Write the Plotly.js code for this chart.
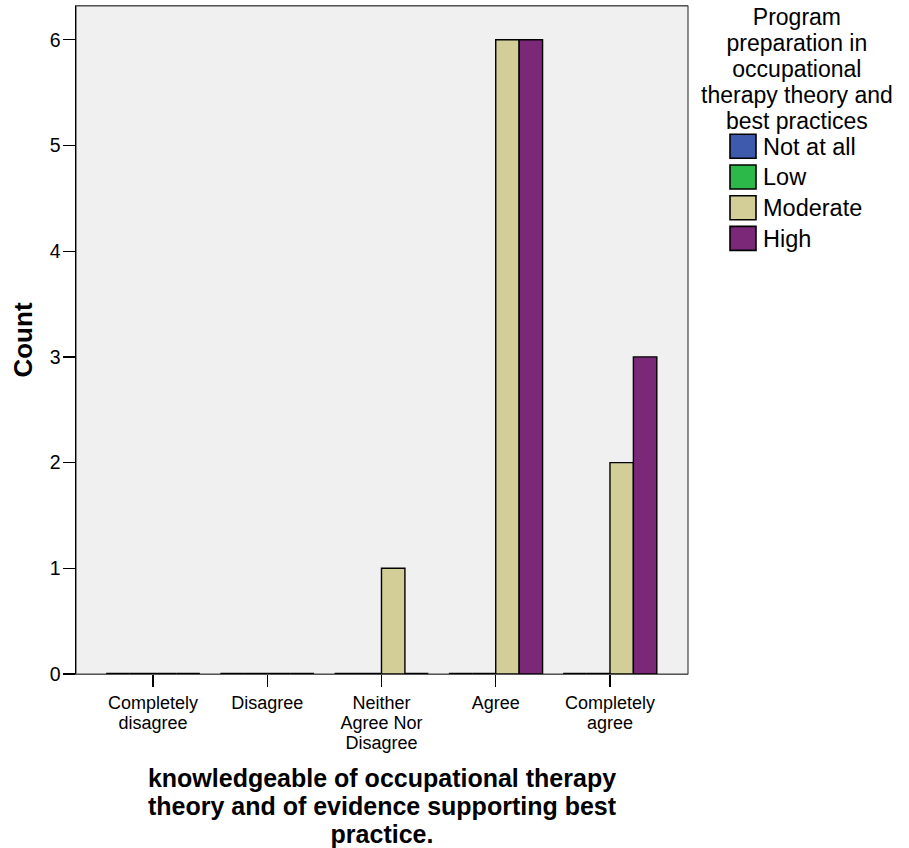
<!DOCTYPE html>
<html><head><meta charset="utf-8">
<script src="https://cdn.plot.ly/plotly-3.0.1.min.js"></script>
<style>html,body{margin:0;padding:0;background:#fff;} #chart{width:909px;height:848px;}</style>
</head><body><div id="chart"></div>
<script>
const categories = ['Completely disagree','Disagree','Neither Agree Nor Disagree','Agree','Completely agree'];
const tickLabels = ['Completely<br>disagree','Disagree','Neither<br>Agree Nor<br>Disagree','Agree','Completely<br>agree'];
const seriesNames = ['Not at all','Low','Moderate','High'];
const notAtAll = [0,0,0,0,0];
const low = [0,0,0,0,0];
const moderate = [0,0,1,6,2];
const high = [0,0,0,6,3];
const seriesValues = [notAtAll, low, moderate, high];
const seriesColors = ['#3d5aad','#2db84a','#d3ce98','#7b2879'];
const legendTitle = 'Program<br>preparation in<br>occupational<br>therapy theory and<br>best practices';
const xTitle = 'knowledgeable of occupational therapy<br>theory and of evidence supporting best<br>practice.';
const yTitle = 'Count';

const FAM = 'Liberation Sans, Arial, Helvetica, sans-serif';
// draw glyphs at px size while the nominal font size controls the line spacing
const big = (s, px) => s.split('<br>').map(l => `<span style="font-size:${px}px">${l}</span>`).join('<br>');

const traces = seriesNames.map((n, i) => ({
  type: 'bar',
  name: big(n, 23.5),
  x: categories,
  y: seriesValues[i],
  marker: {
    color: seriesColors[i],
    line: {color: '#000', width: seriesValues[i].map(v => v === 0 ? 2.6 : 1.4)}
  },
  hoverinfo: 'x+y+name'
}));

const layout = {
  width: 909, height: 848,
  margin: {l: 76, r: 221, t: 6, b: 174},
  paper_bgcolor: '#fff',
  plot_bgcolor: '#f0f0f0',
  font: {family: FAM, color: '#000'},
  barmode: 'group',
  bargap: 0.18,
  bargroupgap: 0,
  showlegend: true,
  xaxis: {
    type: 'category', categoryorder: 'array', categoryarray: categories,
    range: [-0.674, 4.683],
    tickvals: categories, ticktext: tickLabels.map(t => big(t, 18)),
    tickfont: {size: 15.6, family: FAM, color: '#000'},
    ticks: 'outside', ticklen: 12, tickwidth: 1.2, tickcolor: '#000',
    ticklabelstandoff: 3,
    showline: true, linecolor: '#555', linewidth: 1.2, mirror: true, layer: 'below traces',
    showgrid: false, zeroline: false, automargin: false, fixedrange: true,
    title: {text: big(xTitle, 25), font: {size: 21.55, family: FAM, color: '#000', weight: 'bold'}, standoff: 23}
  },
  yaxis: {
    range: [0, 6.32], dtick: 1, tick0: 0,
    tickfont: {size: 19.5, family: FAM, color: '#000'},
    ticks: 'outside', ticklen: 12, tickwidth: 1.2, tickcolor: '#000',
    ticklabelstandoff: -2,
    showline: true, linecolor: '#000', linewidth: 1.5, layer: 'below traces',
    showgrid: false, zeroline: false, automargin: false, fixedrange: true,
    title: {text: yTitle, font: {size: 26, family: FAM, color: '#000', weight: 'bold'}, standoff: 9}
  },
  shapes: [{type: 'rect', xref: 'x domain', yref: 'y domain', x0: 0, x1: 1, y0: 0, y1: 1,
            line: {color: '#444', width: 1.2}, layer: 'below'}],
  annotations: [{
    xref: 'paper', yref: 'paper', x: 1.1781, y: 1.006, xanchor: 'center', yanchor: 'top',
    align: 'center', showarrow: false,
    text: big(legendTitle, 23), font: {size: 20, family: FAM, color: '#000'}
  }],
  legend: {
    x: 1.0, xanchor: 'left', y: 0.8204, yanchor: 'top',
    font: {size: 21.3, family: FAM, color: '#000'},
    indentation: 35,
    bgcolor: 'rgba(0,0,0,0)', borderwidth: 0,
    traceorder: 'normal', itemwidth: 30
  }
};

Plotly.newPlot('chart', traces, layout, {displayModeBar: false, staticPlot: true}).then(gd => {
  gd.querySelectorAll('.legend .legendpoints path').forEach(p => {
    p.setAttribute('d', 'M13,12H-13V-12H13Z');
    p.style.strokeWidth = '1.6px';
  });
});
</script>
</body></html>
